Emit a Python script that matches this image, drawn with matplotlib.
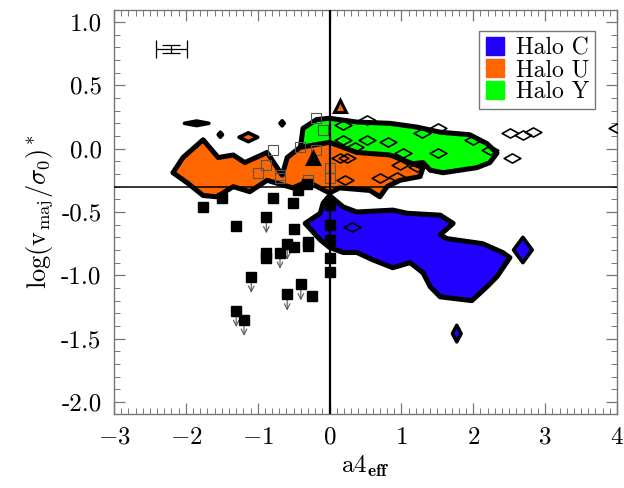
import numpy as np
import matplotlib.pyplot as plt
from matplotlib.path import Path
from matplotlib.patches import Polygon

plt.rcParams['font.family'] = 'serif'
plt.rcParams['font.serif'] = ['cmr10']
plt.rcParams['mathtext.fontset'] = 'cm'
plt.rcParams['axes.formatter.use_mathtext'] = True

# contour outlines of the three halo samples (a4_eff, log v/sigma)
halo_c = [(0.0, -0.37), (0.19, -0.46), (0.38, -0.50), (0.88, -0.485), (1.08, -0.51),
          (1.54, -0.525), (1.72, -0.59), (1.54, -0.68), (1.63, -0.71), (2.13, -0.75),
          (2.41, -0.82), (2.51, -0.86), (2.33, -1.01), (2.19, -1.09), (1.98, -1.20),
          (1.54, -1.17), (1.40, -1.09), (1.30, -0.98), (1.12, -0.90), (0.88, -0.94),
          (0.61, -0.88), (0.38, -0.82), (0.19, -0.82), (0.0, -0.78), (-0.13, -0.72),
          (-0.34, -0.59), (-0.13, -0.51), (-0.09, -0.43)]
halo_u = [(-2.18, -0.19), (-2.04, -0.07), (-1.76, 0.07), (-1.55, -0.07), (-1.34, -0.05),
          (-1.18, -0.11), (-0.87, -0.03), (-0.66, -0.21), (-0.59, -0.07), (-0.41, 0.01),
          (0.0, 0.05), (0.38, -0.03), (0.84, -0.05), (1.30, -0.15), (1.26, -0.22),
          (0.98, -0.25), (0.80, -0.30), (0.70, -0.38), (0.56, -0.33), (0.14, -0.31),
          (0.0, -0.35), (-0.31, -0.26), (-0.51, -0.31), (-0.87, -0.25), (-1.11, -0.34),
          (-1.34, -0.30), (-1.57, -0.38), (-1.76, -0.37), (-1.98, -0.27)]
halo_y = [(-0.41, -0.01), (-0.37, 0.16), (-0.18, 0.23), (0.0, 0.24), (0.38, 0.21),
          (0.84, 0.20), (1.22, 0.17), (1.54, 0.13), (1.95, 0.11), (2.19, 0.04),
          (2.33, -0.035), (2.23, -0.11), (2.05, -0.15), (1.58, -0.19), (1.40, -0.17),
          (1.30, -0.11), (0.98, -0.13), (0.0, -0.09), (-0.41, -0.09)]

# small isolated contour islands: (centre x, centre y, half width, half height, fill)
islands_x = [-1.85, -1.13, -1.52, -0.66, 2.69, 1.77]
islands_y = [0.20, 0.09, 0.11, 0.20, -0.80, -1.46]
islands_w = [0.17, 0.13, 0.03, 0.03, 0.13, 0.06]
islands_h = [0.018, 0.035, 0.02, 0.02, 0.10, 0.065]
islands_c = ['k', '#ff6600', 'k', 'k', '#2200ff', '#2200ff']

# galaxies
diam_x = [0.19, 0.52, 0.52, 0.81, 1.02, 1.51, 1.51, 1.29, 2.0, 2.23, 2.51, 2.69, 2.83,
          2.54, 4.0, 0.22, 0.70, 0.94, 0.98, 1.22, 0.24, 0.14, 0.35, 0.19, 0.31]
diam_y = [0.19, 0.23, 0.07, 0.05, -0.035, -0.035, 0.16, 0.12, 0.07, -0.01, 0.12, 0.11,
          0.13, -0.07, 0.16, -0.25, -0.23, -0.22, -0.13, -0.145, -0.07, -0.07, 0.01,
          0.07, -0.62]
osq_x = [-0.79, -0.88, -1.0, -0.69, -0.69, -0.41, -0.19, -0.09, -0.19, -0.30, 0.0, 0.0]
osq_y = [-0.01, -0.13, -0.19, -0.21, -0.23, 0.01, 0.24, 0.15, -0.01, -0.25, -0.15, -0.23]
fsq_x = [-1.76, -1.50, -0.79, -0.51, -1.30, -0.49, -0.49, -0.30, -0.30, -0.88, -0.88,
         -0.24, 0.0, 0.0, 0.0, 0.0, 0.0, -0.31, -0.44]
fsq_y = [-0.46, -0.39, -0.39, -0.43, -0.61, -0.635, -0.78, -0.74, -0.77, -0.82, -0.86,
         -1.16, -0.60, -0.865, -0.975, -0.72, -0.445, -0.28, -0.33]
# upper limits
lim_x = [-0.88, -0.59, -0.69, -1.09, -0.40, -0.59, -1.30, -1.19]
lim_y = [-0.54, -0.75, -0.82, -1.01, -1.07, -1.15, -1.28, -1.35]
tri_x = [-0.23, 0.15]
tri_y = [-0.07, 0.34]
tri_face = ['k', '#ff6600']

diamond = Path([(-1, 0), (0, 0.55), (1, 0), (0, -0.55), (-1, 0)],
               [Path.MOVETO, Path.LINETO, Path.LINETO, Path.LINETO, Path.CLOSEPOLY])

fig = plt.figure(figsize=(6.24, 4.88), dpi=100)
ax = fig.add_axes([0.1827, 0.1516, 0.8061, 0.828])

for pts, col in [(halo_y, '#00ff00'), (halo_u, '#ff6600'), (halo_c, '#2200ff')]:
    ax.add_patch(Polygon(pts, closed=True, facecolor=col, edgecolor='k', lw=3.6,
                         joinstyle='round', zorder=2))

for x, y, w, h, c in zip(islands_x, islands_y, islands_w, islands_h, islands_c):
    ax.add_patch(Polygon([(x - w, y), (x, y + h), (x + w, y), (x, y - h)], closed=True,
                         facecolor=c, edgecolor='k', lw=2.6, joinstyle='round', zorder=2))

ax.plot(diam_x, diam_y, ls='none', marker=diamond, ms=12, mfc='none', mec='k', mew=1.2,
        zorder=4)
ax.plot(osq_x, osq_y, ls='none', marker='s', ms=7, mfc='none', mec='#555555', mew=0.8,
        zorder=4)
ax.plot(fsq_x + lim_x, fsq_y + lim_y, ls='none', marker='s', ms=6.5, color='k', zorder=4)
for x, y, fc in zip(tri_x, tri_y, tri_face):
    ax.plot(x, y, ls='none', marker='^', ms=8, mfc=fc, mec='k', mew=2.2, zorder=4)
for x, y in zip(lim_x, lim_y):
    ax.annotate('', xy=(x, y - 0.15), xytext=(x, y),
                arrowprops=dict(arrowstyle='->', color='#555555', lw=0.8,
                                mutation_scale=10), zorder=3)

# typical error bar
ax.errorbar(-2.2, 0.787, xerr=0.215, color='k', lw=0.9, capsize=6.5, capthick=0.9)
ax.errorbar(-2.2, 0.787, yerr=0.032, color='k', lw=0.9, capsize=6.5, capthick=0.9)

ax.axhline(-0.3, color='k', lw=1.1, zorder=5)
ax.axvline(0.0, color='k', lw=1.6, zorder=5)

ax.set_xlim(-3, 4)
ax.set_ylim(-2.095, 1.095)
ax.set_xticks(np.arange(-3, 5, 1))
ax.set_xticks(np.arange(-3, 4.01, 0.1), minor=True)
ax.set_yticks(np.arange(-2.0, 1.01, 0.5))
ax.set_yticks(np.arange(-2.0, 1.01, 0.1), minor=True)
ax.yaxis.set_major_formatter(plt.FormatStrFormatter('%.1f'))
ax.tick_params(which='both', direction='in', top=True, right=True, color='#777777',
               labelsize=18, pad=9)
ax.tick_params(which='major', length=8, width=0.9)
ax.tick_params(which='minor', length=4, width=0.7)
for s in ax.spines.values():
    s.set_color('#777777')
    s.set_linewidth(1.0)

ax.set_xlabel(r'a4$_{\mathbf{eff}}$', fontsize=18, labelpad=4)
ax.set_ylabel(r'$\mathrm{log(v_{maj}/\sigma_0)^*}$', fontsize=19, labelpad=4)

handles = [plt.Line2D([], [], ls='none', marker='s', ms=13, color=c)
           for c in ['#2200ff', '#ff6600', '#00ff00']]
leg = ax.legend(handles, ['Halo C', 'Halo U', 'Halo Y'], loc='upper right',
                fontsize=17, handlelength=0.8, handletextpad=0.5, borderpad=0.25,
                labelspacing=0.0, fancybox=False, framealpha=1,
                bbox_to_anchor=(0.98, 0.977))
leg.get_frame().set_edgecolor('#777777')
leg.get_frame().set_linewidth(1.0)

fig.savefig('out.png', dpi=100)
